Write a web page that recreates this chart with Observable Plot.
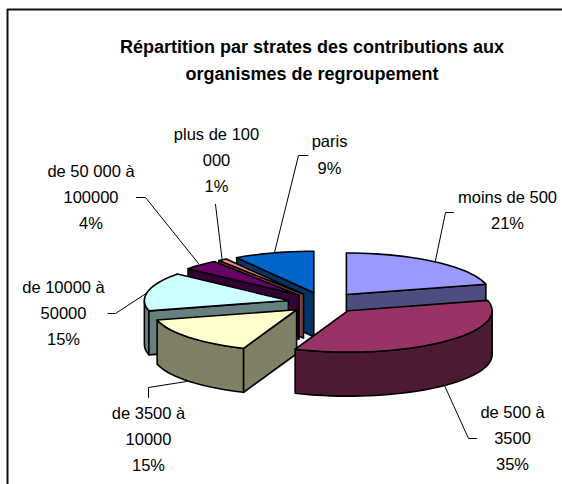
<!DOCTYPE html>
<html><head><meta charset="utf-8">
<script src="https://cdn.jsdelivr.net/npm/d3@7"></script>
<script src="https://cdn.jsdelivr.net/npm/@observablehq/plot@0.6"></script>
<style>html,body{margin:0;padding:0;background:#fff}svg{display:block}</style>
</head><body><div id="chart"></div>
<script>
const categories = ["moins de 500","de 500 à\n3500","de 3500 à\n10000","de 10000 à\n50000","de 50 000 à\n100000","plus de 100\n000","paris"];
const shares = [21,35,15,15,4,1,9];
const topColors = ["#9999ff","#993366","#ffffcc","#ccffff","#660066","#ff8080","#0066cc"];
const sideColors = ["#4d4d80","#4d1933","#808066","#668080","#330033","#804040","#003366"];
const labelX = [507,512,148,63,90.5,216,329];
const labelY = [207,435,436,310,194,157,151.5];
const leaders = [
  [[453,212],[445,212],[435,260]],
  [[476,438],[468,438],[444,385]],
  [[148,397],[148,387],[186,381]],
  [[107.5,313],[115,313],[147,292]],
  [[136,197],[145,197],[198,263]],
  [[215,204],[221.5,258]],
  [[307.5,155],[298,155],[274,252]]
];
const titleLines = ["Répartition par strates des contributions aux","organismes de regroupement"];

// pie layout
const cx = 323.5, cy = 302.3, rx = 144, ry = 41.5, depth = 44, explode = 0.25;
const explodeX = 36.5, explodeY = 10.5;
const rad = d => d * Math.PI / 180;

let acc = 0;
const slices = shares.map((v, i) => {
  const a = acc / 100 * 360; acc += v; const b = acc / 100 * 360;
  const m = rad((a + b) / 2);
  return {i, a, b, ax: cx + explodeX * Math.sin(m), ay: cy - explodeY * Math.cos(m)};
});
const rim = (s, t, dy = 0) => [s.ax + rx * Math.sin(rad(t)), s.ay - ry * Math.cos(rad(t)) + dy];
const arc = (s, t0, t1, dy = 0) => {
  const n = Math.max(2, Math.ceil((t1 - t0) / 3));
  return d3.range(n + 1).map(k => rim(s, t0 + (t1 - t0) * k / n, dy));
};
const stroke = {x: d => d[0], y: d => d[1], stroke: "#000", strokeWidth: 1.6, strokeLinejoin: "round", curve: "linear-closed"};
const face = (pts, fill) => Plot.line(pts, {...stroke, fill});

const marks = [];
for (const i of [6,5,4,3,2,0,1]) {
  const s = slices[i];
  const lo = Math.max(s.a, 90), hi = Math.min(s.b, 270);
  if (hi > lo) marks.push(face([...arc(s, lo, hi), ...arc(s, lo, hi, depth).reverse()], sideColors[i]));
  const apex = [s.ax, s.ay], apexLow = [s.ax, s.ay + depth];
  if (Math.sin(rad(s.a)) < -1e-6) marks.push(face([apex, rim(s, s.a), rim(s, s.a, depth), apexLow], sideColors[i]));
  if (Math.sin(rad(s.b)) > 1e-6) marks.push(face([apex, rim(s, s.b), rim(s, s.b, depth), apexLow], sideColors[i]));
  marks.push(face([apex, ...arc(s, s.a, s.b)], topColors[i]));
}

const labelRows = categories.map((c, i) => ({text: `${c}\n${shares[i]}%`, x: labelX[i], y: labelY[i]}));

const plot = Plot.plot({
  width: 562, height: 484, margin: 0,
  x: {domain: [0, 562], range: [0, 562], axis: null},
  y: {domain: [0, 484], range: [0, 484], axis: null},
  style: {fontFamily: "'Liberation Sans', Arial, sans-serif", background: "#fff"},
  marks: [
    Plot.line([[7,600],[7,9],[600,9]], {x: d => d[0], y: d => d[1], stroke: "#111", strokeWidth: 2, clip: "frame"}),
    ...leaders.map(l => Plot.line(l, {x: d => d[0], y: d => d[1], stroke: "#000", strokeWidth: 1})),
    ...marks,
    Plot.text(labelRows, {x: "x", y: "y", text: "text", fontSize: 16.5, lineHeight: 1.6, fill: "#000", textAnchor: "middle"}),
    Plot.text(titleLines, {x: () => 311.5, y: (d, i) => 47 + i * 27, text: d => d, fontSize: 18, fontWeight: "bold", fill: "#000", textAnchor: "middle"})
  ]
});
document.getElementById("chart").appendChild(plot);
</script></body></html>
